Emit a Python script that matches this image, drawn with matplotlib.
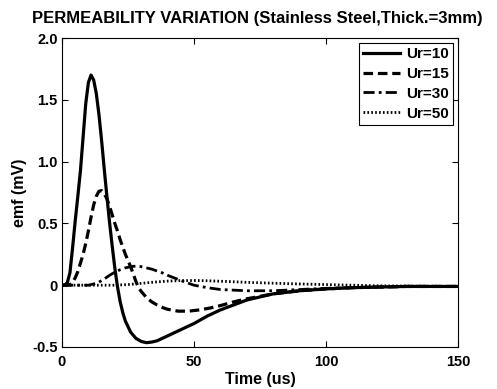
import matplotlib
matplotlib.use('Agg')
import matplotlib.pyplot as plt

plt.rcParams['font.family'] = ['Liberation Sans', 'DejaVu Sans']
plt.rcParams['font.weight'] = 'bold'

# Ur=10 (solid)
t10 = [0, 1, 2, 3, 4, 5, 6, 7, 8, 9, 10, 11, 12, 13, 14, 15, 16, 17, 18, 19, 20, 21,
       22, 23, 24, 26, 28, 30, 32, 34, 36, 38, 40, 45, 50, 55, 60, 65, 70, 75, 80,
       90, 100, 110, 120, 130, 140, 150]
emf10 = [0, 0, 0.02, 0.1, 0.3, 0.52, 0.72, 0.93, 1.2, 1.47, 1.64, 1.70, 1.66, 1.55,
         1.38, 1.17, 0.94, 0.72, 0.51, 0.32, 0.14, -0.01, -0.13, -0.22, -0.29, -0.38,
         -0.43, -0.455, -0.465, -0.46, -0.45, -0.43, -0.41, -0.36, -0.31, -0.25, -0.2,
         -0.16, -0.12, -0.095, -0.07, -0.045, -0.03, -0.02, -0.015, -0.01, -0.01, -0.01]

# Ur=15 (dashed)
t15 = [0, 2, 3, 4, 5, 6, 7, 8, 9, 10, 11, 12, 13, 14, 15, 16, 17, 18, 19, 20, 21, 22,
       23, 24, 25, 26, 27, 28, 29, 30, 32, 34, 36, 38, 40, 44, 48, 52, 56, 60, 65, 70,
       75, 80, 90, 100, 110, 120, 130, 150]
emf15 = [0, 0, 0.005, 0.02, 0.06, 0.11, 0.18, 0.25, 0.34, 0.44, 0.55, 0.65, 0.72,
         0.76, 0.765, 0.74, 0.70, 0.64, 0.57, 0.5, 0.44, 0.37, 0.31, 0.25, 0.2, 0.15,
         0.09, 0.03, -0.02, -0.05, -0.1, -0.135, -0.16, -0.18, -0.195, -0.21, -0.21,
         -0.2, -0.185, -0.165, -0.135, -0.11, -0.09, -0.07, -0.045, -0.03, -0.02,
         -0.015, -0.01, -0.01]

# Ur=30 (dash-dot)
t30 = [0, 10, 12, 14, 16, 18, 20, 22, 24, 26, 28, 30, 32, 34, 36, 38, 40, 43, 46, 50,
       55, 60, 65, 70, 75, 80, 90, 100, 110, 120, 135, 150]
emf30 = [0, 0, 0.01, 0.025, 0.05, 0.08, 0.105, 0.125, 0.14, 0.15, 0.155, 0.15, 0.14,
         0.13, 0.115, 0.1, 0.08, 0.055, 0.03, 0.0, -0.02, -0.035, -0.04, -0.045,
         -0.045, -0.045, -0.035, -0.025, -0.02, -0.015, -0.01, -0.01]

# Ur=50 (dotted)
t50 = [0, 20, 25, 30, 35, 40, 45, 50, 55, 60, 65, 70, 80, 90, 100, 110, 120, 135, 150]
emf50 = [0, 0, 0.005, 0.015, 0.025, 0.033, 0.037, 0.038, 0.036, 0.032, 0.028, 0.023,
         0.016, 0.01, 0.005, 0.0, -0.005, -0.008, -0.01]

xticks = [0, 50, 100, 150]
yticks = [-0.5, 0, 0.5, 1.0, 1.5, 2.0]
ytick_labels = ['-0.5', '0', '0.5', '1.0', '1.5', '2.0']

fig = plt.figure(figsize=(4.97, 3.89), dpi=100)
ax = fig.add_axes([62/497, 42/389, 396/497, 309/389])

ax.plot(t10, emf10, color='black', lw=2.3, ls='-', label='Ur=10')
ax.plot(t15, emf15, color='black', lw=2.3, ls=(0, (3, 1.5)), label='Ur=15')
ax.plot(t30, emf30, color='black', lw=2.0, ls=(0, (4, 1.5, 1, 1.5)), label='Ur=30')
ax.plot(t50, emf50, color='black', lw=2.0, ls=(0, (0.6, 0.8)), label='Ur=50')

ax.set_xlim(0, 150)
ax.set_ylim(-0.5, 2.0)
ax.set_xticks(xticks)
ax.set_xticklabels([str(x) for x in xticks])
ax.set_yticks(yticks)
ax.set_yticklabels(ytick_labels)
ax.tick_params(direction='in', top=True, right=True, length=4, labelsize=10.5, pad=3)
ax.tick_params(axis='x', pad=6)
for s in ax.spines.values():
    s.set_linewidth(0.8)

ax.set_xlabel('Time (us)', fontsize=11.5, fontweight='bold', labelpad=2)
ax.set_ylabel('emf (mV)', fontsize=11.5, fontweight='bold', labelpad=4)
fig.text(257/497, 1 - 19/389, 'PERMEABILITY VARIATION (Stainless Steel,Thick.=3mm)',
         fontsize=12, fontweight='bold', ha='center', va='center')

leg = ax.legend(loc='upper right', fontsize=11, frameon=True, fancybox=False,
                framealpha=1, edgecolor='black', handlelength=2.4, handletextpad=0.4,
                borderpad=0.3, labelspacing=0.38, borderaxespad=0.3)
leg.get_frame().set_linewidth(0.8)
for txt in leg.get_texts():
    txt.set_fontweight('bold')

fig.savefig('out.png', dpi=100)
